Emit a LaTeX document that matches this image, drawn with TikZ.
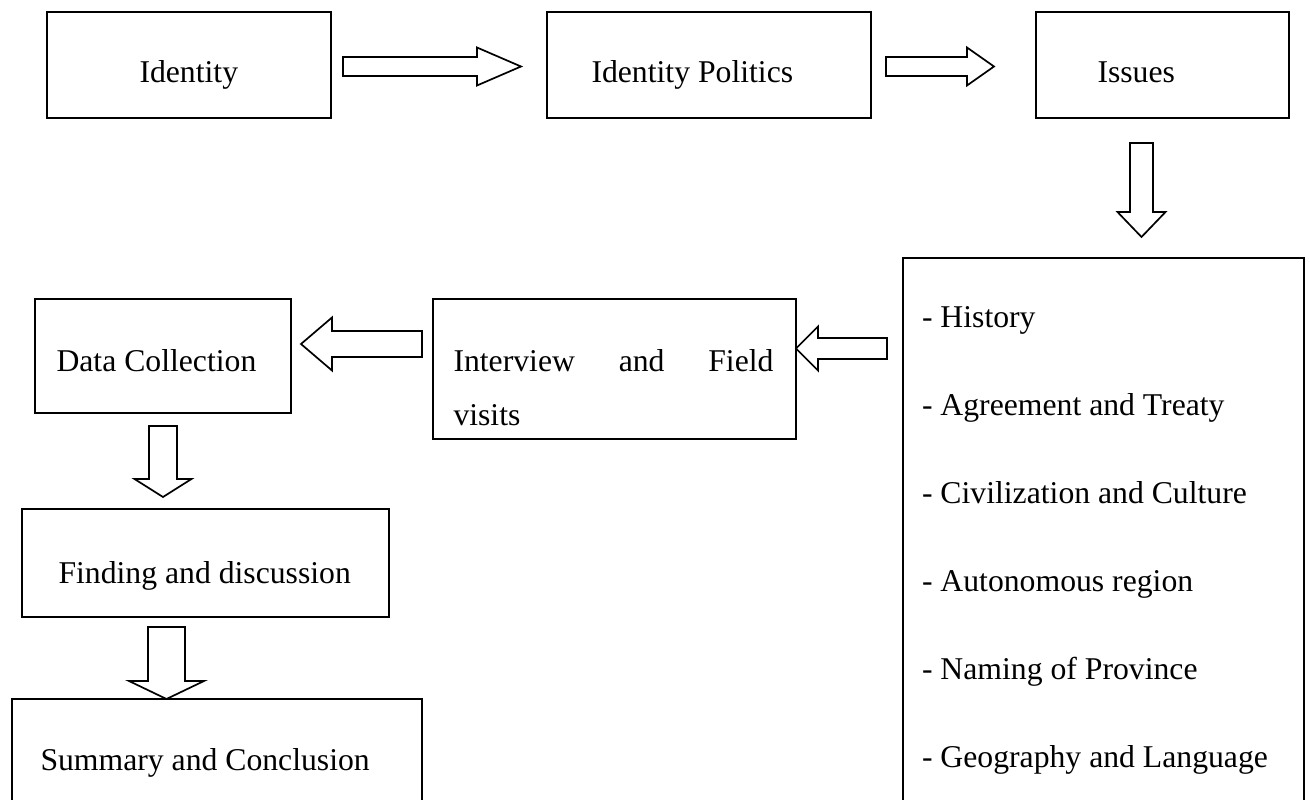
\documentclass[tikz,border=0pt]{standalone}
\usepackage{fontspec}
\setmainfont{Liberation Serif}
\newcommand{\hblockarrow}[6]{%
  \draw[arrowline] (#1,#4-#5) -- (#2,#4-#5) -- (#2,#4-#6) -- (#3,#4) -- (#2,#4+#6) -- (#2,#4+#5) -- (#1,#4+#5) -- cycle;}
\newcommand{\vblockarrow}[6]{%
  \draw[arrowline] (#4-#5,#1) -- (#4-#5,#2) -- (#4-#6,#2) -- (#4,#3) -- (#4+#6,#2) -- (#4+#5,#2) -- (#4+#5,#1) -- cycle;}
\tikzset{
  box/.style={draw=black, line width=1.7pt, inner sep=0pt, outer sep=0pt, anchor=north west},
  txt/.style={inner sep=0pt, outer sep=0pt, anchor=base west, font=\fontsize{31.7pt}{38pt}\selectfont},
  arrowline/.style={draw=black, line width=1.7pt, fill=white, line join=miter}
}
\begin{document}
\begin{tikzpicture}[x=1pt,y=-1pt]
\useasboundingbox (0,0) rectangle (1310,800);
\clip (0,0) rectangle (1310,800);
% boxes
\node[box, minimum width=284, minimum height=106] (identity) at (47,12) {};
\node[box, minimum width=324, minimum height=106] (idpol) at (547,12) {};
\node[box, minimum width=253, minimum height=106] (issues) at (1036,12) {};
\node[box, minimum width=401, minimum height=560] (list) at (903,258) {};
\node[box, minimum width=256, minimum height=114] (datacol) at (35,299) {};
\node[box, minimum width=363, minimum height=140] (interview) at (433,299) {};
\node[box, minimum width=367, minimum height=108] (finding) at (22,509) {};
\node[box, minimum width=410, minimum height=120] (summary) at (12,699) {};
% texts
\node[txt] (identityT) at (139.5,83) {Identity};
\node[txt] (idpolT) at (591.5,83) {Identity Politics};
\node[txt] (issuesT) at (1097.5,83) {Issues};
\node[txt] (datacolT) at (56.5,371) {Data Collection};
\node[txt] (interviewT) at (453.5,371) {\hbox to 320pt{Interview\hfill and\hfill Field}};
\node[txt] (interviewT2) at (453.5,425) {visits};
\node[txt] (findingT) at (58.5,583) {Finding and discussion};
\node[txt] (summaryT) at (40.5,770) {Summary and Conclusion};
\node[txt] (l1) at (922,327) {- History};
\node[txt] (l2) at (922,415) {- Agreement and Treaty};
\node[txt] (l3) at (922,503) {- Civilization and Culture};
\node[txt] (l4) at (922,591) {- Autonomous region};
\node[txt] (l5) at (922,679) {- Naming of Province};
\node[txt] (l6) at (922,767) {- Geography and Language};
% block arrows
\hblockarrow{343}{477}{521}{66.5}{9.5}{19}
\hblockarrow{886}{967}{994}{66.5}{9.5}{19}
\vblockarrow{143}{212}{237}{1141.5}{11.5}{24}
\hblockarrow{887}{818}{796}{348.5}{10.5}{22}
\hblockarrow{422}{332}{301}{344}{13}{26.5}
\vblockarrow{426}{479}{497}{163}{14}{28.5}
\vblockarrow{627}{681}{699}{166.5}{18.5}{37.5}
\end{tikzpicture}
\end{document}
